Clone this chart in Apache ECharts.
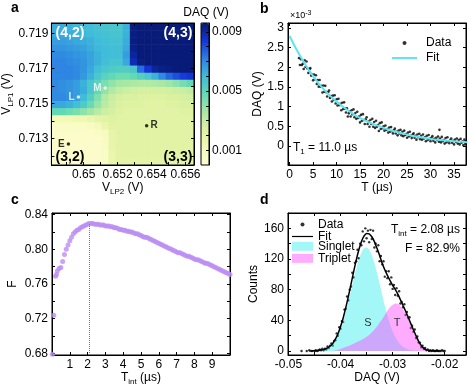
<!DOCTYPE html>
<html>
<head>
<meta charset="utf-8">
<script src="https://cdn.jsdelivr.net/npm/echarts@6/dist/echarts.min.js"></script>
<style>
  html, body { margin: 0; padding: 0; background: #fff; }
  #chart { width: 469px; height: 388px; }
</style>
</head>
<body>
<div id="chart"></div>
<script>
// ---------- panel a: stability map, DAQ signal in mV ----------
const mapX = [0.64831, 0.64873, 0.64915, 0.64957, 0.64999, 0.65041, 0.65083, 0.65125, 0.65167, 0.65209,
              0.65251, 0.65293, 0.65335, 0.65377, 0.65419, 0.65461, 0.65503, 0.65545, 0.65587, 0.65629];
// rows from top to bottom
const mapY = [0.71940, 0.71899, 0.71859, 0.71818, 0.71778, 0.71737, 0.71697, 0.71656, 0.71616, 0.71575,
              0.71535, 0.71494, 0.71454, 0.71413, 0.71373, 0.71332, 0.71292, 0.71251, 0.71211, 0.71170];
const mapDaqMv = [
  [6.3,6.3,6.2,6.1,6.0,5.9,5.8,5.7,5.6,5.6,6.2,9.4,9.5,9.5,9.5,9.5,9.5,9.5,9.5,9.5],
  [6.4,6.4,6.3,6.2,6.1,6.0,5.9,5.8,5.7,5.7,6.2,9.4,9.5,9.5,9.5,9.5,9.5,9.5,9.5,9.5],
  [6.6,6.6,6.5,6.4,6.3,6.2,6.0,5.9,5.8,5.8,6.3,9.4,9.5,9.5,9.5,9.5,9.5,9.5,9.5,9.5],
  [6.8,6.8,6.7,6.6,6.5,6.3,6.1,6.0,5.9,5.9,6.4,9.3,9.5,9.5,9.5,9.5,9.5,9.5,9.5,9.5],
  [7.0,7.0,6.9,6.8,6.7,6.5,6.2,6.0,5.9,5.9,6.6,9.1,9.5,9.5,9.5,9.5,9.5,9.5,9.5,9.5],
  [7.1,7.1,7.0,6.9,6.8,6.5,6.2,5.9,5.7,5.7,6.4,8.8,9.4,9.5,9.5,9.5,9.5,9.5,9.5,9.5],
  [7.1,7.1,7.1,7.0,6.8,6.4,5.9,5.6,5.4,5.3,5.3,5.6,7.5,8.5,9.1,9.3,9.4,9.5,9.5,9.5],
  [7.1,7.1,7.1,7.0,6.7,6.2,5.6,5.1,4.8,4.6,4.6,4.8,5.2,5.6,6.2,7.0,7.6,8.0,8.3,8.5],
  [7.0,6.9,6.8,6.6,6.2,5.6,5.0,4.4,4.0,3.7,3.6,3.5,3.4,3.4,3.5,3.6,3.8,4.1,4.5,4.8],
  [7.0,6.9,6.8,6.6,6.3,5.6,4.8,4.0,3.4,3.0,2.8,2.7,2.6,2.6,2.6,2.6,2.7,2.8,2.9,3.1],
  [7.0,7.0,6.9,6.6,6.0,5.2,4.3,3.4,2.9,2.6,2.5,2.5,2.4,2.4,2.4,2.4,2.5,2.5,2.6,2.7],
  [6.4,6.4,6.2,5.9,5.4,4.7,3.9,3.2,2.8,2.5,2.4,2.4,2.4,2.3,2.3,2.3,2.4,2.4,2.5,2.5],
  [4.8,4.8,4.6,4.4,4.1,3.7,3.2,2.8,2.6,2.4,2.3,2.3,2.3,2.3,2.2,2.2,2.3,2.3,2.4,2.4],
  [1.2,1.2,1.2,1.3,1.4,1.7,2.0,2.3,2.4,2.3,2.3,2.3,2.2,2.2,2.2,2.2,2.2,2.3,2.3,2.3],
  [0.5,0.5,0.5,0.5,0.6,0.7,1.0,1.8,2.2,2.2,2.2,2.2,2.2,2.2,2.2,2.2,2.2,2.2,2.3,2.3],
  [0.4,0.4,0.4,0.4,0.4,0.4,0.5,0.8,1.9,2.2,2.2,2.2,2.2,2.2,2.2,2.2,2.2,2.2,2.2,2.2],
  [0.4,0.4,0.4,0.4,0.4,0.4,0.4,0.7,1.9,2.2,2.2,2.2,2.2,2.2,2.2,2.2,2.2,2.2,2.2,2.2],
  [0.4,0.4,0.4,0.4,0.4,0.4,0.4,0.7,1.9,2.2,2.2,2.2,2.2,2.2,2.2,2.2,2.2,2.2,2.2,2.2],
  [0.4,0.4,0.4,0.4,0.4,0.4,0.4,0.6,1.8,2.2,2.2,2.2,2.2,2.2,2.2,2.2,2.2,2.2,2.2,2.2],
  [0.4,0.4,0.4,0.4,0.4,0.4,0.4,0.6,1.8,2.1,2.1,2.1,2.1,2.1,2.1,2.1,2.1,2.1,2.1,2.1]
];
const markerNames = ['E', 'L', 'M', 'R'];
const markerX = [0.64910, 0.64969, 0.65127, 0.65371];
const markerY = [0.71270, 0.71538, 0.71589, 0.71374];

// ---------- panel b: relaxation, DAQ in units of 1e-3 V ----------
const bPoints = [
  [2.0,2.24],[2.2,2.06],[2.4,2.21],[2.6,2.06],[2.8,2.09],[3.0,1.96],[3.2,2.18],[3.4,2.01],[3.6,2.15],[3.8,1.97],
  [4.0,1.86],[4.2,1.95],[4.4,1.98],[4.6,1.79],[4.8,1.82],[5.0,1.67],[5.2,1.82],[5.4,1.70],[5.6,1.80],[5.8,1.58],
  [6.0,1.68],[6.2,1.51],[6.4,1.68],[6.6,1.51],[6.8,1.53],[7.0,1.36],[7.2,1.54],[7.4,1.38],[7.6,1.53],[7.8,1.37],
  [8.0,1.26],[8.2,1.37],[8.4,1.41],[8.6,1.22],[8.8,1.27],[9.0,1.13],[9.2,1.28],[9.4,1.17],[9.6,1.29],[9.8,1.08],
  [10.0,1.19],[10.2,1.03],[10.4,1.20],[10.6,1.04],[10.8,1.07],[11.0,0.91],[11.2,1.10],[11.4,0.94],[11.6,1.11],[11.8,0.95],
  [12.0,0.85],[12.2,0.96],[12.4,0.75],[12.6,0.83],[12.8,0.88],[13.0,0.75],[13.2,0.91],[13.4,0.81],[13.6,0.93],[13.8,0.73],
  [14.0,0.84],[14.2,0.69],[14.4,0.87],[14.6,0.71],[14.8,0.75],[15.0,0.60],[15.2,0.79],[15.4,0.64],[15.6,0.81],[15.8,0.66],
  [16.0,0.56],[16.2,0.68],[16.4,0.73],[16.6,0.56],[16.8,0.62],[17.0,0.49],[17.2,0.66],[17.4,0.56],[17.6,0.69],[17.8,0.49],
  [18.0,0.61],[18.2,0.46],[18.4,0.64],[18.6,0.49],[18.8,0.53],[19.0,0.38],[19.2,0.58],[19.4,0.43],[19.6,0.60],[19.8,0.45],
  [20.0,0.50],[20.2,0.39],[20.4,0.52],[20.6,0.41],[20.8,0.43],[21.0,0.34],[21.2,0.47],[21.4,0.36],[21.6,0.48],[21.8,0.38],
  [22.0,0.32],[22.2,0.40],[22.4,0.44],[22.6,0.32],[22.8,0.36],[23.0,0.27],[23.2,0.39],[23.4,0.32],[23.6,0.41],[23.8,0.27],
  [24.0,0.36],[24.2,0.25],[24.4,0.39],[24.6,0.28],[24.8,0.30],[25.0,0.21],[25.2,0.34],[25.4,0.24],[25.6,0.36],[25.8,0.26],
  [26.0,0.20],[26.2,0.29],[26.4,0.32],[26.6,0.21],[26.8,0.26],[27.0,0.16],[27.2,0.29],[27.4,0.22],[27.6,0.31],[27.8,0.17],
  [28.0,0.26],[28.2,0.16],[28.4,0.29],[28.6,0.19],[28.8,0.22],[29.0,0.12],[29.2,0.26],[29.4,0.15],[29.6,0.28],[29.8,0.18],
  [30.0,0.12],[30.2,0.21],[30.4,0.25],[30.6,0.13],[30.8,0.18],[31.0,0.09],[31.2,0.21],[31.4,0.15],[31.6,0.24],[31.8,0.11],
  [31.9,0.41],[32.0,0.19],[32.2,0.09],[32.4,0.23],[32.6,0.12],[32.8,0.15],[33.0,0.06],[33.2,0.20],[33.4,0.09],[33.6,0.22],
  [33.8,0.12],[34.0,0.07],[34.2,0.15],[34.4,0.19],[34.6,0.08],[34.8,0.13],[35.0,0.04],[35.2,0.16],[35.4,0.10],[35.6,0.19],
  [35.8,0.06],[36.0,0.15],[36.2,0.04],[36.4,0.18],[36.6,0.08],[36.8,0.11],[37.0,0.02],[37.2,0.16],[37.4,0.05],[37.5,0.12]
];
const fitT = [0, 2, 4, 6, 8, 10, 12, 14, 16, 18, 20, 22, 24, 26, 28, 30, 32, 34, 36, 38];
const fitDaq = [2.80, 2.34, 1.95, 1.62, 1.35, 1.13, 0.94, 0.78, 0.65, 0.55,
                0.46, 0.38, 0.32, 0.26, 0.22, 0.18, 0.15, 0.13, 0.11, 0.09];

// ---------- panel c: fidelity vs integration time ----------
const cTint = [0.02,0.1,0.2,0.25,0.3,0.4,0.5,0.6,0.7,0.8,0.9,1.0,1.1,1.2,1.3,1.4,1.5,1.6,1.7,1.8,1.9,2.0,2.08,
  2.2,2.3,2.4,2.5,2.6,2.7,2.8,2.9,3.0,3.1,3.2,3.3,3.4,3.5,3.6,3.7,3.8,3.9,4.0,4.1,4.2,4.3,4.4,4.5,4.6,4.7,4.8,4.9,
  5.0,5.1,5.2,5.3,5.4,5.5,5.6,5.7,5.8,5.9,6.0,6.1,6.2,6.3,6.4,6.5,6.6,6.7,6.8,6.9,7.0,7.1,7.2,7.3,7.4,7.5,7.6,7.7,
  7.8,7.9,8.0,8.1,8.2,8.3,8.4,8.5,8.6,8.7,8.8,8.9,9.0,9.1,9.2,9.3,9.4,9.5,9.6,9.7,9.8,9.9,10.0];
const cF = [0.679,0.724,0.769,0.771,0.775,0.778,0.779,0.786,0.794,0.800,0.805,0.810,0.814,0.818,0.820,0.822,0.823,
  0.825,0.826,0.827,0.828,0.829,0.830,
  0.830,0.830,0.829,0.829,0.829,0.828,0.828,0.828,0.827,0.827,0.827,0.826,0.826,0.825,0.825,0.824,0.823,0.823,
  0.822,0.822,0.821,0.821,0.820,0.820,0.819,0.818,0.818,0.817,0.816,0.815,0.814,0.814,0.813,0.812,0.811,0.810,
  0.809,0.808,0.807,0.806,0.805,0.804,0.803,0.802,0.801,0.800,0.799,0.798,0.797,0.796,0.796,0.795,0.794,0.793,
  0.792,0.792,0.791,0.790,0.789,0.788,0.788,0.787,0.786,0.785,0.784,0.784,0.783,0.782,0.781,0.780,0.779,0.778,
  0.777,0.776,0.775,0.774,0.773,0.772,0.771];
const tIntBest = 2.08;
const fBest = 0.829;

// ---------- panel d: readout histogram ----------
const curveX = [-0.0460,-0.0455,-0.0450,-0.0445,-0.0440,-0.0435,-0.0430,-0.0425,-0.0420,-0.0415,
  -0.0410,-0.0405,-0.0400,-0.0395,-0.0390,-0.0385,-0.0380,-0.0375,-0.0370,-0.0365,
  -0.0360,-0.0355,-0.0350,-0.0345,-0.0340,-0.0335,-0.0330,-0.0325,-0.0320,-0.0315,
  -0.0310,-0.0305,-0.0300,-0.0295,-0.0290,-0.0285,-0.0280,-0.0275,-0.0270,-0.0265,
  -0.0260,-0.0255,-0.0250,-0.0245,-0.0240,-0.0235,-0.0230,-0.0225,-0.0220,-0.0215,-0.0210];
const singletCounts = [0.1,0.1,0.3,0.5,0.9,1.5,2.5,4.1,6.5,9.9,
  14.6,21.0,29.2,39.1,51.2,64.7,78.9,93.5,107.2,119.1,
  128.2,133.6,134.9,131.9,125.0,114.7,101.9,87.7,73.1,59.0,
  46.2,35.0,25.7,18.3,12.6,8.4,5.4,3.4,2.1,1.2,
  0.7,0.4,0.2,0.1,0,0,0,0,0,0,0];
const tripletCounts = [0,0,0,0,0,0,0,0,0,0,
  0.8,1.4,2.7,4.0,5.3,6.6,8.0,9.5,11.0,12.6,
  14.4,16.2,18.5,21.0,24.0,28.0,32.0,37.0,41.5,47.0,
  52.5,57.0,60.0,62.0,61.5,58.5,54.0,48.5,42.0,34.5,
  27.0,19.5,12.5,7.0,3.5,1.5,0.6,0.2,0,0,0];
const fitCounts = [0.1,0.1,0.3,0.5,0.9,1.5,2.5,4.1,6.5,9.9,
  15.4,22.4,31.9,43.1,56.5,71.3,86.9,103.0,118.2,131.7,
  142.6,149.8,153.4,152.9,149.0,142.7,133.9,124.7,114.6,106.0,
  98.7,92.0,85.7,80.3,74.1,66.9,59.4,51.9,44.1,35.7,
  27.7,19.9,12.7,7.1,3.5,1.5,0.6,0.2,0,0,0];
const dPoints = [
  [-0.0475,0],[-0.0465,0],[-0.0460,1],[-0.0455,0],
  [-0.04500,0],[-0.04475,1],[-0.04450,0],[-0.04425,1],[-0.04400,2],[-0.04375,1],[-0.04350,3],[-0.04325,1],[-0.04300,3],[-0.04275,2],
  [-0.04250,6],[-0.04225,4],[-0.04200,7],[-0.04175,10],[-0.04150,7],[-0.04125,13],[-0.04100,14],[-0.04075,23],[-0.04050,20],[-0.04025,31],
  [-0.04000,29],[-0.03975,39],[-0.03950,38],[-0.03925,54],[-0.03900,55],[-0.03875,71],[-0.03850,66],[-0.03825,80],[-0.03800,84],[-0.03775,102],
  [-0.03750,96],[-0.03725,115],[-0.03700,117],[-0.03675,132],[-0.03650,121],[-0.03625,140],[-0.03600,138],[-0.03575,156],[-0.03550,143],[-0.03525,160],
  [-0.03500,147],[-0.03475,157],[-0.03450,142],[-0.03425,158],[-0.03400,146],[-0.03375,157],[-0.03350,135],[-0.03325,140],[-0.03300,130],[-0.03275,138],
  [-0.03250,117],[-0.03225,124],[-0.03200,113],[-0.03175,117],[-0.03150,97],[-0.03125,104],[-0.03100,95],[-0.03075,104],[-0.03050,87],[-0.03025,96],
  [-0.03000,81],[-0.02975,86],[-0.02950,73],[-0.02925,82],[-0.02900,72],[-0.02875,78],[-0.02850,62],[-0.02825,64],[-0.02800,57],[-0.02775,61],
  [-0.02750,47],[-0.02725,51],[-0.02700,43],[-0.02675,44],[-0.02650,30],[-0.02625,33],[-0.02600,25],[-0.02575,28],[-0.02550,17],[-0.02525,19],
  [-0.02500,11],[-0.02475,11],[-0.02450,5],[-0.02425,7],[-0.02400,3],[-0.02375,4],[-0.02350,1],[-0.02325,2],[-0.02300,0],[-0.02275,1],
  [-0.02250,0],[-0.02225,1],[-0.02200,0],[-0.02175,0],[-0.02150,1],[-0.02125,0],[-0.02100,0],[-0.02075,0],[-0.02050,1],[-0.02025,0],
  [-0.02000,0]
];

// ---------- styling ----------
const FONT = 'Liberation Sans, Arial, sans-serif';
const MAP_COLORS = ['#fffed2', '#f3f9b6', '#dff2a2', '#a9e8a3', '#62d9b5', '#3fbcd9', '#2d80e3', '#1535d9', '#07196f'];
const RICH = {
  m: {fontSize: 12, fontFamily: FONT, color: '#000', fill: '#000'},
  s: {fontSize: 8, fontFamily: FONT, color: '#000', fill: '#000', padding: [7, 0, 0, 0]},
  p: {fontSize: 7, fontFamily: FONT, color: '#000', fill: '#000', padding: [0, 0, 6, 0]},
  sm: {fontSize: 9, fontFamily: FONT, color: '#000', fill: '#000'}
};

function clean(o) {
  Object.keys(o).forEach(k => { if (o[k] === undefined) delete o[k]; });
  return o;
}

function axis(gridIndex, position, min, max, ex) {
  ex = ex || {};
  const mirror = position === 'top' || position === 'right';
  const showLabel = ex.showLabel !== undefined ? ex.showLabel : !mirror;
  return clean({
    type: 'value', gridIndex, position, min, max,
    show: ex.show,
    interval: ex.interval, splitNumber: ex.splitNumber,
    name: mirror ? undefined : ex.name,
    nameLocation: 'middle', nameGap: ex.nameGap, nameRotate: ex.nameRotate,
    nameTextStyle: {color: '#000', fontSize: 12, fontFamily: FONT, rich: RICH},
    axisLine: {show: true, onZero: false, lineStyle: {color: '#000', width: 1}},
    axisTick: {show: true, inside: true, length: 3, lineStyle: {color: '#000', width: 1}},
    axisLabel: clean({show: showLabel, color: '#000', fontSize: 12, fontFamily: FONT, margin: ex.margin || 4,
      formatter: ex.formatter, showMinLabel: false, showMaxLabel: false}),
    splitLine: {show: false},
    z: ex.z
  });
}

// label every `every`-th step of 1/scale; keepZeros keeps trailing zeros (e.g. 0.80)
function stepLabel(scale, every, offset, digits, keepZeros) {
  return v => {
    const k = Math.round(v * scale);
    if (Math.abs(v * scale - k) > 1e-6) return '';
    if (((k % every) + every) % every !== offset) return '';
    const s = (k / scale).toFixed(digits);
    return keepZeros ? s : String(+s);
  };
}

// ---------- build series data ----------
const cells = [];
mapY.forEach((y, r) => mapX.forEach((x, i) => cells.push([x, y, mapDaqMv[r][i]])));
const halfW = (mapX[mapX.length - 1] - mapX[0]) / (mapX.length - 1) / 2;
const halfH = (mapY[0] - mapY[mapY.length - 1]) / (mapY.length - 1) / 2;

const whiteMarkers = ['L', 'M'];
const markers = markerNames.map((n, i) => {
  const c = whiteMarkers.includes(n) ? '#fff' : '#000';
  return {
    name: n, value: [markerX[i], markerY[i]],
    itemStyle: {color: c},
    label: {show: true, formatter: '{b}', position: n === 'R' ? 'right' : 'left', distance: 2,
      color: c, fontSize: 10, fontWeight: 'bold', fontFamily: FONT}
  };
});

const chart = echarts.init(document.getElementById('chart'), null, {renderer: 'canvas'});

function txt(x, y, text, o) {
  o = o || {};
  return {
    type: 'text', x, y, z: 100,
    style: clean({
      text, fill: o.fill || '#000', fontSize: o.size || 12, fontWeight: o.weight || 'normal', fontFamily: FONT,
      align: o.align || 'left', verticalAlign: 'middle', textAlign: o.align || 'left', textVerticalAlign: 'middle',
      rich: o.rich ? RICH : undefined
    })
  };
}

const option = {
  animation: false,
  backgroundColor: '#fff',
  textStyle: {fontFamily: FONT},
  grid: [
    {left: 51, top: 23, width: 143, height: 142, show: true, borderColor: '#000', borderWidth: 1, backgroundColor: 'transparent', z: 5},
    {left: 201, top: 23, width: 8, height: 142, show: true, borderColor: '#000', borderWidth: 1, backgroundColor: 'transparent', z: 10},
    {left: 288, top: 23, width: 178, height: 142, show: true, borderColor: '#000', borderWidth: 1, backgroundColor: 'transparent'},
    {left: 52, top: 213, width: 178, height: 142, show: true, borderColor: '#000', borderWidth: 1, backgroundColor: 'transparent'},
    {left: 288, top: 213, width: 178, height: 142, show: true, borderColor: '#000', borderWidth: 1, backgroundColor: 'transparent'}
  ],
  xAxis: [
    axis(0, 'bottom', 0.6481, 0.6565, {splitNumber: 8, formatter: stepLabel(1000, 2, 0, 3),
      name: '{m|V}{s|LP2}{m| (V)}', nameGap: 15, z: 5}),
    axis(0, 'top', 0.6481, 0.6565, {splitNumber: 8, z: 5}),
    axis(1, 'bottom', 0, 1, {show: false}),
    axis(2, 'bottom', -0.34, 37.55, {splitNumber: 8, name: 'T (µs)', nameGap: 15}),
    axis(2, 'top', -0.34, 37.55, {splitNumber: 8}),
    axis(3, 'bottom', 0, 10, {interval: 1, name: '{m|T}{s|int}{m| (µs)}', nameGap: 15}),
    axis(3, 'top', 0, 10, {interval: 1}),
    axis(4, 'bottom', -0.0501, -0.0159, {splitNumber: 7, formatter: stepLabel(1000, 10, 0, 2),
      name: 'DAQ (V)', nameGap: 15}),
    axis(4, 'top', -0.0501, -0.0159, {splitNumber: 7})
  ],
  yAxis: [
    axis(0, 'left', 0.7115, 0.7196, {splitNumber: 8, formatter: stepLabel(1000, 2, 1, 3),
      name: '{m|V}{s|LP1}{m| (V)}', nameRotate: 90, nameGap: 26, margin: 3, z: 5}),
    axis(0, 'right', 0.7115, 0.7196, {splitNumber: 8, z: 5}),
    axis(1, 'right', 0, 9.6, {interval: 1, showLabel: true, margin: 3, z: 10,
      formatter: v => { const k = Math.round(v); if (Math.abs(v - k) > 1e-6) return ''; return (k === 1 || k === 5 || k === 9) ? (k / 1000).toFixed(3) : ''; }}),
    axis(2, 'left', -0.485, 3.13, {splitNumber: 7, name: 'DAQ (V)', nameRotate: 90, nameGap: 23}),
    axis(2, 'right', -0.485, 3.13, {splitNumber: 7}),
    axis(3, 'left', 0.678, 0.842, {splitNumber: 8, formatter: stepLabel(100, 4, 0, 2, true),
      name: 'F', nameRotate: 90, nameGap: 33}),
    axis(3, 'right', 0.678, 0.842, {splitNumber: 8}),
    axis(4, 'left', -5.2, 180, {splitNumber: 9, formatter: stepLabel(1, 40, 0, 0),
      name: 'Counts', nameRotate: 90, nameGap: 23}),
    axis(4, 'right', -5.2, 180, {splitNumber: 9})
  ],
  visualMap: [{
    type: 'continuous', min: 0, max: 9.6, dimension: 2, seriesIndex: 0,
    left: 201, top: 23, itemWidth: 8, itemHeight: 142, padding: 0,
    calculable: false, hoverLink: false, show: true, text: ['', ''], textGap: 0,
    inRange: {color: MAP_COLORS}
  }],
  legend: [
    {
      left: 392, top: 36, orient: 'vertical', itemWidth: 25, itemHeight: 4, itemGap: 1, padding: 0,
      selectedMode: false,
      textStyle: {fontSize: 12, lineHeight: 14, color: '#000', fontFamily: FONT, padding: [0, 0, 0, 4]},
      itemStyle: {borderWidth: 0},
      data: [
        {name: 'Data', icon: 'circle', itemStyle: {color: '#000', borderWidth: 0}},
        {name: 'Fit', icon: 'path://M0,0M25,4M0,1L25,1L25,3L0,3Z', itemStyle: {color: '#5fe6ee', borderWidth: 0}}
      ]
    },
    {
      left: 292, top: 218.5, orient: 'vertical', itemWidth: 21, itemHeight: 4, itemGap: 0, padding: 0,
      selectedMode: false,
      formatter: n => n.trim(),
      textStyle: {fontSize: 12, lineHeight: 11, color: '#000', fontFamily: FONT},
      itemStyle: {borderWidth: 0},
      data: [
        {name: 'Data ', icon: 'circle', itemStyle: {color: '#000', borderWidth: 0}},
        {name: 'Fit ', icon: 'path://M0,0M21,4M0,1.4L21,1.4L21,2.6L0,2.6Z', itemStyle: {color: '#000', borderWidth: 0}}
      ]
    },
    {
      left: 292, top: 240.3, orient: 'vertical', itemWidth: 21, itemHeight: 9, itemGap: 0, padding: 0,
      selectedMode: false,
      textStyle: {fontSize: 12, lineHeight: 11.5, color: '#000', fontFamily: FONT},
      itemStyle: {borderWidth: 0},
      data: [
        {name: 'Singlet', icon: 'rect', itemStyle: {color: '#a3f7f7', borderWidth: 0}},
        {name: 'Triplet', icon: 'rect', itemStyle: {color: '#ffabff', borderWidth: 0}}
      ]
    }
  ],
  series: [
    {
      type: 'custom', xAxisIndex: 0, yAxisIndex: 0, clip: true, silent: true,
      data: cells,
      renderItem: (params, api) => {
        const x = api.value(0), y = api.value(1);
        const p0 = api.coord([x - halfW, y + halfH]);
        const p1 = api.coord([x + halfW, y - halfH]);
        return {
          type: 'rect',
          shape: {x: p0[0], y: p0[1], width: p1[0] - p0[0] + 0.6, height: p1[1] - p0[1] + 0.6},
          style: {fill: api.visual('color')}
        };
      }
    },
    {
      type: 'scatter', xAxisIndex: 0, yAxisIndex: 0, symbolSize: 3.5, silent: true,
      data: markers
    },
    {
      name: 'Data', type: 'scatter', xAxisIndex: 3, yAxisIndex: 3, symbolSize: 2.6, silent: true,
      itemStyle: {color: '#000'},
      data: bPoints
    },
    {
      name: 'Fit', type: 'line', xAxisIndex: 3, yAxisIndex: 3, symbol: 'none', smooth: true, silent: true,
      lineStyle: {color: '#5fe6ee', width: 2}, itemStyle: {color: '#5fe6ee'},
      data: fitT.map((t, i) => [t, fitDaq[i]])
    },
    {
      type: 'scatter', xAxisIndex: 5, yAxisIndex: 5, symbolSize: 5, silent: true,
      itemStyle: {color: '#bb8df3'},
      data: cTint.map((t, i) => [t, cF[i]]),
      markLine: {
        silent: true, symbol: ['none', 'none'], label: {show: false},
        lineStyle: {type: 'dotted', color: '#7a7a7a', width: 1},
        data: [[{coord: [tIntBest, 0.678]}, {coord: [tIntBest, fBest]}]]
      }
    },
    {
      name: 'Singlet', type: 'line', xAxisIndex: 7, yAxisIndex: 7, symbol: 'none', silent: true, smooth: 0.3,
      lineStyle: {width: 0, color: '#a3f7f7'}, itemStyle: {color: '#a3f7f7'},
      areaStyle: {color: 'rgba(51,238,238,0.45)', opacity: 1},
      data: curveX.map((x, i) => [x, singletCounts[i]])
    },
    {
      name: 'Triplet', type: 'line', xAxisIndex: 7, yAxisIndex: 7, symbol: 'none', silent: true, smooth: 0.3,
      lineStyle: {width: 0, color: '#ffabff'}, itemStyle: {color: '#ffabff'},
      areaStyle: {color: 'rgba(255,68,255,0.45)', opacity: 1},
      data: curveX.map((x, i) => [x, tripletCounts[i]])
    },
    {
      name: 'Fit ', type: 'line', xAxisIndex: 7, yAxisIndex: 7, symbol: 'none', silent: true, smooth: 0.3,
      lineStyle: {width: 1.5, color: '#000'}, itemStyle: {color: '#000'},
      data: curveX.map((x, i) => [x, fitCounts[i]])
    },
    {
      name: 'Data ', type: 'scatter', xAxisIndex: 7, yAxisIndex: 7, symbolSize: 2.4, silent: true,
      itemStyle: {color: '#000'},
      data: dPoints
    }
  ],
  graphic: [
    txt(11, 8.5, 'a', {size: 14, weight: 'bold'}),
    txt(260, 9, 'b', {size: 14, weight: 'bold'}),
    txt(11, 200, 'c', {size: 14, weight: 'bold'}),
    txt(260, 200, 'd', {size: 14, weight: 'bold'}),
    txt(206, 12.5, 'DAQ (V)', {align: 'center'}),
    txt(70, 33, '(4,2)', {size: 14, weight: 'bold', fill: '#fff', align: 'center'}),
    txt(178, 33, '(4,3)', {size: 14, weight: 'bold', fill: '#fff', align: 'center'}),
    txt(70, 157, '(3,2)', {size: 14, weight: 'bold', align: 'center'}),
    txt(178, 157, '(3,3)', {size: 14, weight: 'bold', align: 'center'}),
    txt(290, 16, '{sm|×10}{p|-3}', {rich: true}),
    txt(293, 148, '{m|T}{s|1}{m| = 11.0 µs}', {rich: true}),
    txt(460, 230, '{m|T}{s|int}{m| = 2.08 µs}', {rich: true, align: 'right'}),
    txt(460, 249, 'F = 82.9%', {align: 'right'}),
    txt(368, 323, 'S', {size: 11, fill: '#333', align: 'center'}),
    txt(397, 323, 'T', {size: 11, fill: '#333', align: 'center'})
  ]
};

chart.setOption(option);
</script>
</body>
</html>
